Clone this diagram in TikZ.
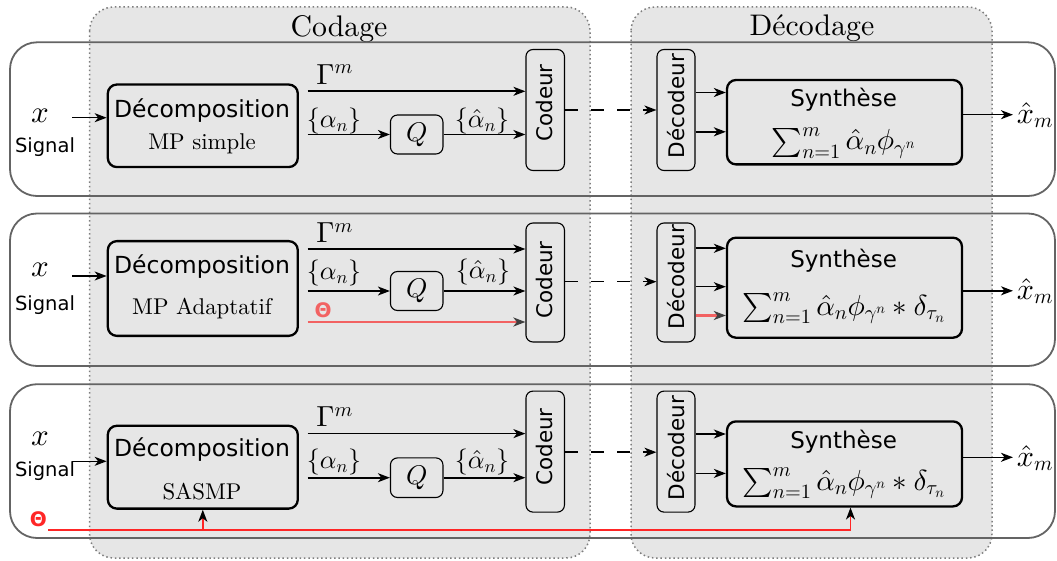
\documentclass[tikz,border=0pt]{standalone}
\usepackage{amsmath}
\usepackage{fontspec}
\newfontfamily\djv{DejaVu Sans}
\newfontfamily\lmten{lmroman10-regular}[Extension=.otf]
\DeclareFontShape{OML}{cmm}{m}{it}{<->cmmi10}{}
\DeclareFontShape{OMS}{cmsy}{m}{n}{<->cmsy10}{}
\DeclareFontShape{OMX}{cmex}{m}{n}{<->cmex10}{}
\DeclareFontShape{OT1}{cmr}{m}{n}{<->cmr10}{}
\usetikzlibrary{arrows.meta}
\definecolor{panelgray}{HTML}{E6E6E6}
\definecolor{paneledge}{HTML}{7E7E7E}
\definecolor{framegray}{HTML}{646464}
\definecolor{palered}{HTML}{F26262}
\definecolor{brightred}{HTML}{FF2626}
\begin{document}
\begin{tikzpicture}[x=1pt,y=-1pt,
  panel/.style={fill=panelgray, draw=paneledge, line width=1.5pt, dash pattern=on 1.5pt off 2.8pt, rounded corners=24pt},
  rowframe/.style={draw=framegray, line width=1.8pt, rounded corners=27pt},
  bigbox/.style={draw, line width=2.3pt, rounded corners=9pt, inner sep=0pt, fill=panelgray},
  smallbox/.style={draw, line width=1.1pt, rounded corners=7pt, inner sep=0pt, fill=panelgray},
  arr/.style={-{Stealth[length=12pt,width=9pt,inset=3.5pt]}, line width=1.6pt},
  dashedline/.style={dash pattern=on 13pt off 13pt},
  redarrA/.style={-{Stealth[length=12pt,width=9pt,inset=3.5pt,color=black!75]}, line width=2.8pt, draw=palered},
  redarrB/.style={-{Stealth[length=12pt,width=9pt,inset=3.5pt,color=black]}, line width=1.6pt, draw=brightred},
  sflab/.style={font=\djv\fontsize{23.5}{27}\selectfont, inner sep=0pt},
  synlab/.style={font=\djv\fontsize{23}{27}\selectfont, inner sep=0pt},
  rotlab/.style={font=\djv\fontsize{21.5}{25}\selectfont, inner sep=0pt, rotate=90},
  siglab/.style={font=\djv\fontsize{19.5}{22}\selectfont, inner sep=0pt},
  rmlab/.style={font=\lmten\fontsize{22.8}{26}\selectfont, inner sep=0pt},
  titlelab/.style={font=\lmten\fontsize{29.8}{34}\selectfont, inner sep=0pt},
  glab/.style={font=\fontsize{29}{33}\selectfont, inner sep=0pt},
  alab/.style={font=\fontsize{26}{30}\selectfont, inner sep=0pt},
  qlab/.style={font=\fontsize{27}{31}\selectfont, inner sep=0pt},
  flab/.style={font=\fontsize{29}{33}\selectfont, inner sep=0pt},
  xlab/.style={font=\fontsize{31}{35}\selectfont, inner sep=0pt},
  xhlab/.style={font=\fontsize{30}{34}\selectfont, inner sep=0pt},
  thlab/.style={font=\djv\bfseries\fontsize{20}{24}\selectfont, inner sep=0pt}
]
\useasboundingbox (0,0) rectangle (1057,561);
% panels
\draw[panel] (89.6,7) rectangle (590,558);
\draw[panel] (631,7) rectangle (992,558);
\node[titlelab] (tcod) at (339,29) {Codage};
\node[titlelab] (tdec) at (812,28.5) {Décodage};
% row frames
\draw[rowframe] (10,42.3) rectangle (1055,196);
\draw[rowframe] (10,213.5) rectangle (1055,366);
\draw[rowframe] (10,384.2) rectangle (1055,538);

% ================= Row 1 =================
\node[bigbox, minimum width=190pt, minimum height=82.5pt] (dec1) at (202.8,125.8) {};
\node[sflab] (dect1) at (202,110.7) {Décomposition};
\node[rmlab] (mp1) at (202,144) {MP simple};
\node[xlab] (x1) at (40,115.5) {$x$};
\node[siglab] (s1) at (45,147.5) {Signal};
\coordinate (in1) at (72,117.7);
\draw[arr] (in1) -- (in1 -| dec1.west);
\node[smallbox, minimum width=52.5pt, minimum height=39pt] (q1) at (416.7,134.5) {};
\node[qlab] (ql1) at (q1) {$Q$};
\node[smallbox, minimum width=38.5pt, minimum height=121pt] (cod1) at (545.2,110) {};
\node[rotlab] (codl1) at (544.8,103) {Codeur};
\node[smallbox, minimum width=38pt, minimum height=121pt] (dcod1) at (676,110) {};
\node[rotlab] (dcodl1) at (676,106) {Décodeur};
\node[bigbox, minimum width=235pt, minimum height=84.4pt] (syn1) at (844.5,122.2) {};
\node[synlab] (synl1) at (843.6,99.3) {Synthèse};
\node[flab] (f1) at (843.6,142.8) {$\sum_{n=1}^{m}\hat{\alpha}_n\phi_{\gamma^n}$};
\node[glab] (gl1) at (334.7,74.4) {$\Gamma^m$};
\node[alab] (al1) at (334,121.4) {$\{\alpha_n\}$};
\node[alab] (ahl1) at (482,121.4) {$\{\hat{\alpha}_n\}$};
\coordinate (g1) at (307.6,91.3);
\draw[arr] (g1) -- (g1 -| cod1.west);
\coordinate (a1) at (307.6,134.5);
\draw[arr] (a1) -- (q1.west);
\draw[arr] (q1.east) -- (q1.east -| cod1.west);
\draw[arr,dashedline] (cod1.east) -- (dcod1.west);
\coordinate (s1a) at (0,92.5);
\coordinate (s1b) at (0,131.8);
\draw[arr] (dcod1.east |- s1a) -- (syn1.west |- s1a);
\draw[arr] (dcod1.east |- s1b) -- (syn1.west |- s1b);
\coordinate (o1) at (1013,114.7);
\draw[arr] (o1 -| syn1.east) -- (o1);
\node[xhlab] (xh1) at (1035,115) {$\hat{x}_m$};

% ================= Row 2 =================
\node[bigbox, minimum width=190pt, minimum height=94.7pt] (dec2) at (202.8,288.5) {};
\node[sflab] (dect2) at (202,267) {Décomposition};
\node[rmlab] (mp2) at (202,308.9) {MP Adaptatif};
\node[xlab] (x2) at (40,270) {$x$};
\node[siglab] (s2) at (45,305) {Signal};
\coordinate (in2) at (72,276);
\draw[arr] (in2) -- (in2 -| dec2.west);
\node[smallbox, minimum width=52.5pt, minimum height=39pt] (q2) at (416.7,291) {};
\node[qlab] (ql2) at (q2) {$Q$};
\node[smallbox, minimum width=38.5pt, minimum height=119pt] (cod2) at (545.2,282.5) {};
\node[rotlab] (codl2) at (544.8,280) {Codeur};
\node[smallbox, minimum width=38pt, minimum height=119pt] (dcod2) at (676,282.5) {};
\node[rotlab] (dcodl2) at (676,277) {Décodeur};
\node[bigbox, minimum width=235pt, minimum height=100pt] (syn2) at (844.5,287.7) {};
\node[synlab] (synl2) at (843.6,261) {Synthèse};
\node[flab] (f2) at (843.6,307.9) {$\sum_{n=1}^{m}\hat{\alpha}_n\phi_{\gamma^n}*\delta_{\tau_n}$};
\node[glab] (gl2) at (334.7,232.8) {$\Gamma^m$};
\node[alab] (al2) at (334,273) {$\{\alpha_n\}$};
\node[alab] (ahl2) at (483,272.5) {$\{\hat{\alpha}_n\}$};
\node[thlab, text=palered] (th2) at (323,310) {Θ};
\coordinate (g2) at (307.6,249);
\draw[arr] (g2) -- (g2 -| cod2.west);
\coordinate (a2) at (307.6,291);
\draw[arr] (a2) -- (q2.west);
\draw[arr] (q2.east) -- (q2.east -| cod2.west);
\coordinate (t2) at (307.6,322);
\draw[redarrA] (t2) -- (t2 -| cod2.west);
\coordinate (dl2) at (0,281.7);
\draw[arr,dashedline] (cod2.east |- dl2) -- (dcod2.west |- dl2);
\coordinate (s2a) at (0,248.3);
\coordinate (s2b) at (0,286.7);
\coordinate (s2c) at (0,315.5);
\draw[arr] (dcod2.east |- s2a) -- (syn2.west |- s2a);
\draw[arr] (dcod2.east |- s2b) -- (syn2.west |- s2b);
\draw[redarrA] (dcod2.east |- s2c) -- (syn2.west |- s2c);
\coordinate (o2) at (1013,290.8);
\draw[arr] (o2 -| syn2.east) -- (o2);
\node[xhlab] (xh2) at (1035,291) {$\hat{x}_m$};

% ================= Row 3 =================
\node[bigbox, minimum width=190pt, minimum height=82.8pt] (dec3) at (202.8,467.2) {};
\node[sflab] (dect3) at (202,449.4) {Décomposition};
\node[rmlab] (mp3) at (202,491.7) {SASMP};
\node[xlab] (x3) at (40,438.5) {$x$};
\node[siglab] (s3) at (45,471.3) {Signal};
\coordinate (in3) at (72,461.3);
\draw[arr] (in3) -- (in3 -| dec3.west);
\node[smallbox, minimum width=52.5pt, minimum height=39.6pt] (q3) at (416.7,477.7) {};
\node[qlab] (ql3) at (q3) {$Q$};
\node[smallbox, minimum width=38.5pt, minimum height=121pt] (cod3) at (545.2,451.6) {};
\node[rotlab] (codl3) at (544.8,447) {Codeur};
\node[smallbox, minimum width=38pt, minimum height=121pt] (dcod3) at (676,451.6) {};
\node[rotlab] (dcodl3) at (676,448) {Décodeur};
\node[bigbox, minimum width=235pt, minimum height=85pt] (syn3) at (844.5,463.9) {};
\node[synlab] (synl3) at (843.6,441.9) {Synthèse};
\node[flab] (f3) at (843.6,483) {$\sum_{n=1}^{m}\hat{\alpha}_n\phi_{\gamma^n}*\delta_{\tau_n}$};
\node[glab] (gl3) at (334.7,416.7) {$\Gamma^m$};
\node[alab] (al3) at (334,462.3) {$\{\alpha_n\}$};
\node[alab] (ahl3) at (482,462.3) {$\{\hat{\alpha}_n\}$};
\node[thlab, text=brightred] (th3) at (38.5,519.5) {Θ};
\coordinate (g3) at (307.6,433.6);
\draw[arr] (g3) -- (g3 -| cod3.west);
\coordinate (a3) at (307.6,477.7);
\draw[arr] (a3) -- (q3.west);
\draw[arr] (q3.east) -- (q3.east -| cod3.west);
\coordinate (dl3) at (0,452.2);
\draw[arr,dashedline] (cod3.east |- dl3) -- (dcod3.west |- dl3);
\coordinate (s3a) at (0,434);
\coordinate (s3b) at (0,473.4);
\draw[arr] (dcod3.east |- s3a) -- (syn3.west |- s3a);
\draw[arr] (dcod3.east |- s3b) -- (syn3.west |- s3b);
\coordinate (o3) at (1013,457.3);
\draw[arr] (o3 -| syn3.east) -- (o3);
\node[xhlab] (xh3) at (1035,458) {$\hat{x}_m$};
% red Theta path
\coordinate (thS) at (48.3,530);
\coordinate (rc) at (850.5,530);
\coordinate (bc) at (202.8,530);
\draw[redarrB] (thS) -- (rc) -- (rc |- syn3.south);
\draw[redarrB] (bc) -- (dec3.south);
\end{tikzpicture}
\end{document}
